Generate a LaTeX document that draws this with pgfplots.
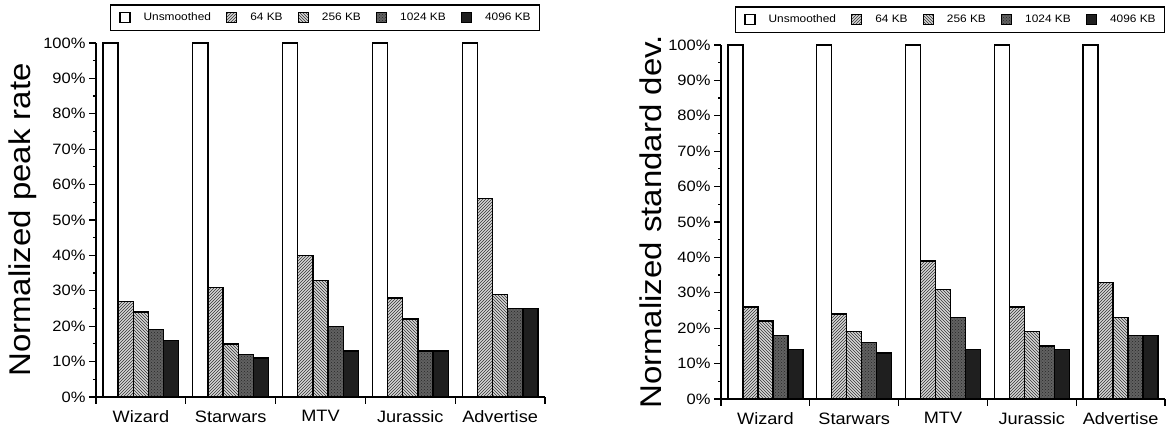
\documentclass[border=0pt]{standalone}
\usepackage{pgfplots}
\usepackage{pgfplotstable}
\pgfplotsset{compat=1.18}
\usepackage{fontspec}
\setmainfont{Liberation Sans}[FakeStretch=1.1]
\usetikzlibrary{patterns}

% Normalized peak rate for each trace and smoothing buffer size
\pgfplotstableread{
x u k64 k256 k1024 k4096
0 100 27 24 19 16
1 100 31 15 12 11
2 100 40 33 20 13
3 100 28 22 13 13
4 100 56 29 25 25
}\peaktable

% Normalized standard deviation for each trace and buffer size
\pgfplotstableread{
x u k64 k256 k1024 k4096
0 100 26 22 18 14
1 100 24 19 16 13
2 100 39 31 23 14
3 100 26 19 15 14
4 100 33 23 18 18
}\stdtable

\pgfplotsset{
  unsm/.style={fill=white, draw=black, line width=1.3pt},
  k64/.style={fill=black!16, draw=black, line width=1.3pt,
    postaction={pattern=north east lines, pattern color=black!80}},
  k256/.style={fill=black!16, draw=black, line width=1.3pt,
    postaction={pattern=north west lines, pattern color=black!80}},
  k1024/.style={fill=black!62, draw=black, line width=1.3pt,
    postaction={pattern=crosshatch dots, pattern color=black!85}},
  k4096/.style={fill=black!88, draw=black, line width=1.3pt},
  smoothbars/.style={
    scale only axis, height=354pt,
    ybar, bar width=0.169,
    xmin=-0.5, xmax=4.5, ymin=0, ymax=100,
    axis x line*=bottom, axis y line*=left,
    axis line style={line width=1.6pt, -},
    xtick={-0.5,0.5,...,4.5},
    x tick label as interval,
    xticklabels={Wizard,Starwars,MTV,Jurassic,Advertise},
    ytick={0,10,...,100},
    yticklabels={0\%,10\%,20\%,30\%,40\%,50\%,60\%,70\%,80\%,90\%,100\%},
    minor ytick={5,15,...,95},
    tick align=outside,
    major tick length=7pt, minor tick length=3pt,
    tick style={line width=1.2pt, black},
    xticklabel style={font=\fontsize{16.5}{19}\selectfont, yshift=-3pt},
    yticklabel style={font=\fontsize{15}{18}\selectfont},
    legend columns=-1,
    legend image code/.code={\draw[##1] (0pt,-5pt) rectangle (10pt,5pt);},
    legend style={at={(0.5,1)}, anchor=south, draw=black, line width=1.2pt,
      font=\fontsize{10.8}{12}\selectfont, inner xsep=9pt, inner ysep=7pt,
      nodes={inner sep=0pt},
      /tikz/every odd column/.append style={column sep=13pt},
      /tikz/every even column/.append style={column sep=15pt}},
  },
  ylab/.style={every axis y label/.style={at={(axis description cs:0,0.5)},
      xshift=#1, rotate=90, anchor=center, font=\fontsize{30}{36}\selectfont}},
}

\begin{document}
\begin{tikzpicture}

\begin{axis}[smoothbars, width=449pt, at={(0pt,0pt)}, ylab=-73pt,
  ylabel={Normalized peak rate},
  legend style={xshift=4.5pt, yshift=12pt}]
\addplot[unsm,  bar shift=-0.338] table[x=x, y=u]{\peaktable};
\addplot[k64,   bar shift=-0.169] table[x=x, y=k64]{\peaktable};
\addplot[k256,  bar shift=0]      table[x=x, y=k256]{\peaktable};
\addplot[k1024, bar shift=0.169]  table[x=x, y=k1024]{\peaktable};
\addplot[k4096, bar shift=0.338]  table[x=x, y=k4096]{\peaktable};
\legend{Unsmoothed, 64 KB, 256 KB, 1024 KB, 4096 KB}
\end{axis}

\begin{axis}[smoothbars, width=444pt, at={(625pt,-2pt)}, ylab=-70pt,
  ylabel={Normalized standard dev.},
  legend style={xshift=7pt, yshift=12pt}]
\addplot[unsm,  bar shift=-0.338] table[x=x, y=u]{\stdtable};
\addplot[k64,   bar shift=-0.169] table[x=x, y=k64]{\stdtable};
\addplot[k256,  bar shift=0]      table[x=x, y=k256]{\stdtable};
\addplot[k1024, bar shift=0.169]  table[x=x, y=k1024]{\stdtable};
\addplot[k4096, bar shift=0.338]  table[x=x, y=k4096]{\stdtable};
\legend{Unsmoothed, 64 KB, 256 KB, 1024 KB, 4096 KB}
\end{axis}

\pgfresetboundingbox
\path[use as bounding box] (-96pt,-33pt) rectangle (1075pt,397pt);
\end{tikzpicture}
\end{document}
